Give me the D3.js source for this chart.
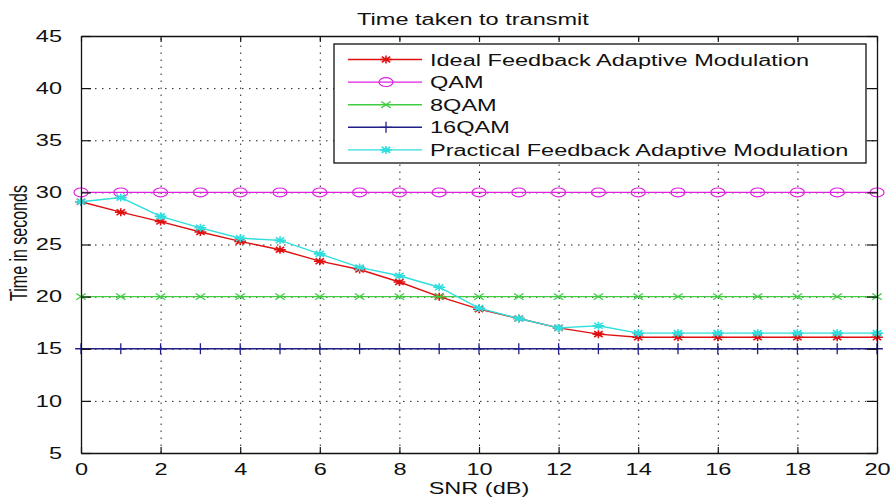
<!DOCTYPE html>
<html>
<head>
<meta charset="utf-8">
<script src="https://cdn.jsdelivr.net/npm/d3@7"></script>
<style>
  body { margin: 0; background: #fff; }
  svg { display: block; font-family: "Liberation Sans", Arial, sans-serif; }
</style>
</head>
<body>
<div id="chart"></div>
<script>
// x values (SNR in dB)
var snr = [0, 1, 2, 3, 4, 5, 6, 7, 8, 9, 10, 11, 12, 13, 14, 15, 16, 17, 18, 19, 20];

// time in seconds
var ideal = [29.1, 28.1, 27.2, 26.2, 25.3, 24.5, 23.4, 22.6, 21.4, 20.0, 18.8,
             17.9, 17.0, 16.4, 16.1, 16.1, 16.1, 16.1, 16.1, 16.1, 16.1];
var qam = [30, 30, 30, 30, 30, 30, 30, 30, 30, 30, 30,
           30, 30, 30, 30, 30, 30, 30, 30, 30, 30];
var qam8 = [20, 20, 20, 20, 20, 20, 20, 20, 20, 20, 20,
            20, 20, 20, 20, 20, 20, 20, 20, 20, 20];
var qam16 = [15, 15, 15, 15, 15, 15, 15, 15, 15, 15, 15,
             15, 15, 15, 15, 15, 15, 15, 15, 15, 15];
var practical = [29.1, 29.5, 27.7, 26.6, 25.6, 25.4, 24.1, 22.8, 22.0, 20.9, 18.9,
                 17.9, 17.0, 17.2, 16.5, 16.5, 16.5, 16.5, 16.5, 16.5, 16.5];

var xTicks = [0, 2, 4, 6, 8, 10, 12, 14, 16, 18, 20];
var yTicks = [5, 10, 15, 20, 25, 30, 35, 40, 45];

var series = [
    {name: 'Ideal Feedback Adaptive Modulation', values: ideal, color: '#e01010', marker: 'star'},
    {name: 'QAM', values: qam, color: '#e020e0', marker: 'circle'},
    {name: '8QAM', values: qam8, color: '#40cc40', marker: 'x'},
    {name: '16QAM', values: qam16, color: '#202088', marker: 'plus'},
    {name: 'Practical Feedback Adaptive Modulation', values: practical, color: '#30dede', marker: 'star'}
];

var W = 894, H = 500,
    box = {left: 81, right: 877, top: 36, bottom: 453},
    sx = 1.47; // the picture is stretched sideways

var svg = d3.select('#chart').append('svg')
    .attr('width', W)
    .attr('height', H);

var x = d3.scaleLinear().domain([0, 20]).range([box.left, box.right]);
var y = d3.scaleLinear().domain([5, 45]).range([box.bottom, box.top]);

// widen text like the original
function stretch(sel) {
    sel.each(function () {
        var len = this.getComputedTextLength();
        d3.select(this)
            .attr('textLength', len * sx)
            .attr('lengthAdjust', 'spacingAndGlyphs');
    });
}

// grid
var grid = svg.append('g').attr('class', 'grid');
grid.append('g')
    .attr('transform', 'translate(0,' + box.bottom + ')')
    .call(d3.axisBottom(x).tickValues(xTicks.slice(1, -1)).tickSize(-(box.bottom - box.top)).tickFormat(''));
grid.append('g')
    .attr('transform', 'translate(' + box.left + ',0)')
    .call(d3.axisLeft(y).tickValues(yTicks.slice(1, -1)).tickSize(-(box.right - box.left)).tickFormat(''));
grid.selectAll('.domain').remove();
grid.selectAll('line')
    .attr('stroke', '#222')
    .attr('stroke-width', 1)
    .attr('stroke-dasharray', '1.5,5.5');

// markers
function markerPath(type) {
    var r;
    if (type === 'star') {
        r = 4;
        return 'M0,' + (-r) + 'V' + r +
            'M' + (-r * sx) + ',0H' + (r * sx) +
            'M' + (-r * 0.72 * sx) + ',' + (-r * 0.72) + 'L' + (r * 0.72 * sx) + ',' + (r * 0.72) +
            'M' + (-r * 0.72 * sx) + ',' + (r * 0.72) + 'L' + (r * 0.72 * sx) + ',' + (-r * 0.72);
    }
    if (type === 'x') {
        r = 3.2;
        return 'M' + (-r * sx) + ',' + (-r) + 'L' + (r * sx) + ',' + r +
            'M' + (-r * sx) + ',' + r + 'L' + (r * sx) + ',' + (-r);
    }
    if (type === 'plus') {
        r = 5.5;
        return 'M0,' + (-r) + 'V' + r + 'M' + (-4 * sx) + ',0H' + (4 * sx);
    }
    return null;
}

function drawMarker(g, type, color) {
    if (type === 'circle') {
        g.append('ellipse')
            .attr('rx', 7)
            .attr('ry', 4.4)
            .attr('fill', 'none')
            .attr('stroke', color)
            .attr('stroke-width', 1.2);
    } else {
        g.append('path')
            .attr('d', markerPath(type))
            .attr('fill', 'none')
            .attr('stroke', color)
            .attr('stroke-width', type === 'star' ? 1.6 : 1.3);
    }
}

var line = d3.line()
    .x(function (d, i) { return x(snr[i]); })
    .y(function (d) { return y(d); });

var plot = svg.append('g').attr('class', 'plot');

series.forEach(function (s) {
    var g = plot.append('g');
    g.append('path')
        .datum(s.values)
        .attr('d', line)
        .attr('fill', 'none')
        .attr('stroke', s.color)
        .attr('stroke-width', 1.4);

    g.selectAll('g.mk')
        .data(s.values)
        .enter().append('g')
        .attr('class', 'mk')
        .attr('transform', function (d, i) { return 'translate(' + x(snr[i]) + ',' + y(d) + ')'; })
        .each(function () { drawMarker(d3.select(this), s.marker, s.color); });
});

// axes: ticks point inwards on all four sides
var axes = svg.append('g').attr('class', 'axes');

var bottom = axes.append('g')
    .attr('transform', 'translate(0,' + box.bottom + ')')
    .call(d3.axisBottom(x).tickValues(xTicks).tickSizeInner(-6).tickSizeOuter(0).tickPadding(11));
var left = axes.append('g')
    .attr('transform', 'translate(' + box.left + ',0)')
    .call(d3.axisLeft(y).tickValues(yTicks).tickSizeInner(-10).tickSizeOuter(0).tickPadding(19));
axes.append('g')
    .attr('transform', 'translate(0,' + box.top + ')')
    .call(d3.axisTop(x).tickValues(xTicks).tickSizeInner(-6).tickSizeOuter(0).tickFormat(''));
axes.append('g')
    .attr('transform', 'translate(' + box.right + ',0)')
    .call(d3.axisRight(y).tickValues(yTicks).tickSizeInner(-10).tickSizeOuter(0).tickFormat(''));

axes.selectAll('.domain').attr('stroke', '#111').attr('stroke-width', 1.3);
axes.selectAll('.tick line').attr('stroke', '#111').attr('stroke-width', 1.2);

bottom.selectAll('text')
    .attr('font-size', 16)
    .attr('font-family', '"Liberation Sans", Arial, sans-serif')
    .attr('fill', '#111')
    .call(stretch);
left.selectAll('text')
    .attr('font-size', 16)
    .attr('font-family', '"Liberation Sans", Arial, sans-serif')
    .attr('fill', '#111')
    .call(stretch);

// titles
svg.append('text')
    .attr('x', 473)
    .attr('y', 25)
    .attr('text-anchor', 'middle')
    .attr('font-size', 16)
    .attr('fill', '#111')
    .text('Time taken to transmit')
    .call(stretch);

svg.append('text')
    .attr('x', 479)
    .attr('y', 494)
    .attr('text-anchor', 'middle')
    .attr('font-size', 16)
    .attr('fill', '#111')
    .text('SNR (dB)')
    .call(stretch);

svg.append('text')
    .attr('transform', 'translate(27,243) scale(' + sx + ',1) rotate(-90)')
    .attr('text-anchor', 'middle')
    .attr('font-size', 16)
    .attr('fill', '#111')
    .text('Time in seconds');

// legend
var legend = svg.append('g').attr('class', 'legend');
legend.append('rect')
    .attr('x', 334)
    .attr('y', 44)
    .attr('width', 866 - 334)
    .attr('height', 163 - 44)
    .attr('fill', '#fff')
    .attr('stroke', '#111')
    .attr('stroke-width', 1.3);

var row = legend.selectAll('g.row')
    .data(series)
    .enter().append('g')
    .attr('class', 'row')
    .attr('transform', function (d, i) { return 'translate(0,' + (59.5 + i * 22.6) + ')'; });

row.append('line')
    .attr('x1', 348)
    .attr('x2', 422)
    .attr('stroke', function (d) { return d.color; })
    .attr('stroke-width', 1.4);
row.append('g')
    .attr('transform', 'translate(386,0)')
    .each(function (d) { drawMarker(d3.select(this), d.marker, d.color); });
row.append('text')
    .attr('x', 430)
    .attr('y', 6)
    .attr('font-size', 16)
    .attr('fill', '#111')
    .text(function (d) { return d.name; })
    .call(stretch);
</script>
</body>
</html>
